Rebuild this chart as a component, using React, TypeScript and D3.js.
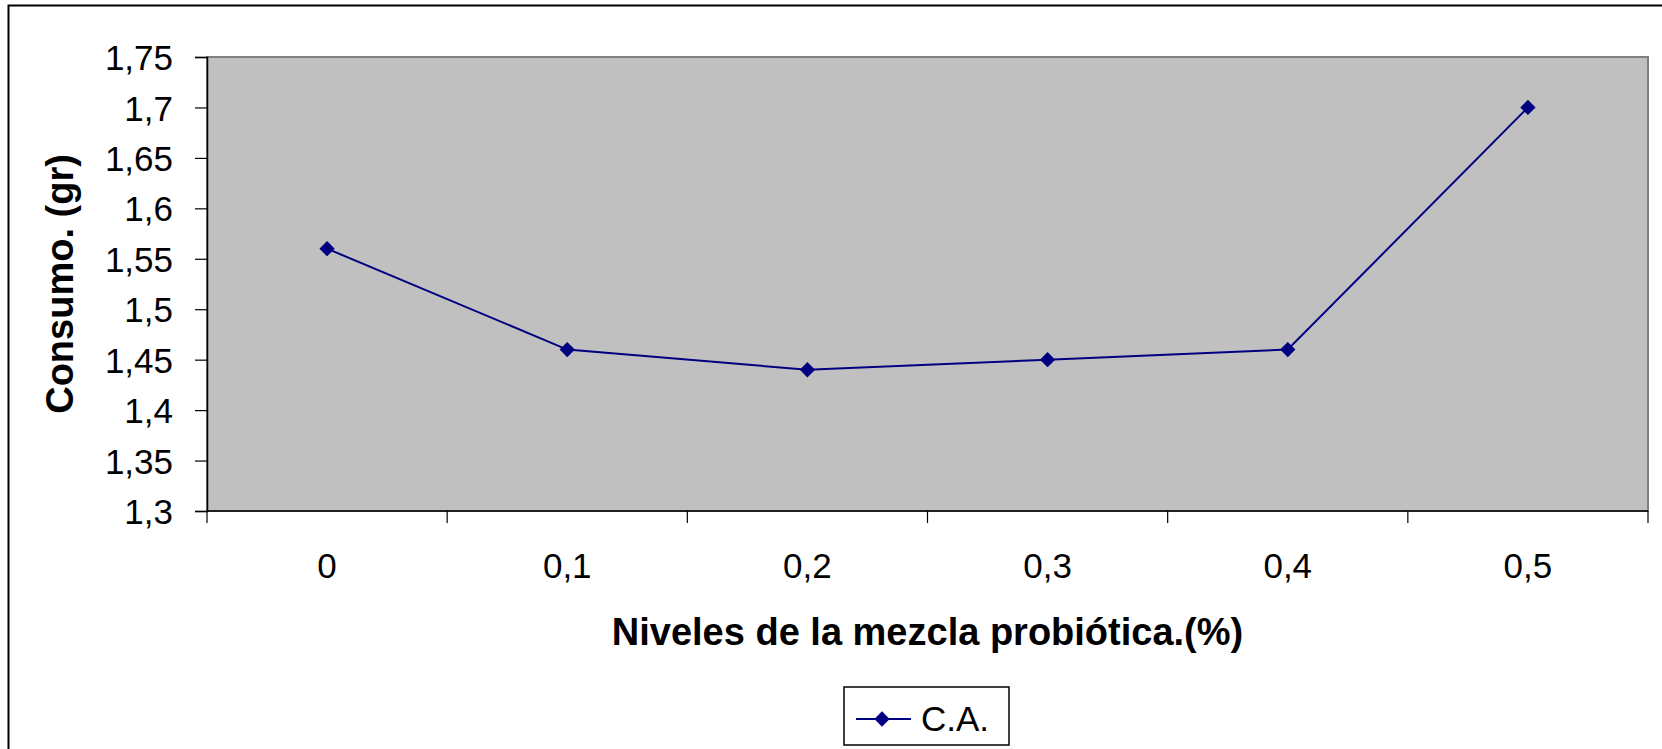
import React, { useEffect, useRef } from 'react';
import * as d3 from 'd3';

const categories = ['0', '0,1', '0,2', '0,3', '0,4', '0,5'];
const consumo = [1.56, 1.46, 1.44, 1.45, 1.46, 1.7];
const yTicks = [1.3, 1.35, 1.4, 1.45, 1.5, 1.55, 1.6, 1.65, 1.7, 1.75];
const seriesName = 'C.A.';

const ConsumoChart: React.FC = () => {
  const chartRef = useRef<SVGSVGElement | null>(null);

  useEffect(() => {
    if (!chartRef.current) return;
    const svg = d3.select(chartRef.current);
    svg.selectAll('*').remove();

    const width = 1662;
    const height = 749;
    const plot = { left: 207, top: 57, right: 1648, bottom: 511 };
    const font = 'Arial, "Liberation Sans", sans-serif';

    svg.append('rect')
      .attr('width', width)
      .attr('height', height)
      .attr('fill', '#fff');

    // outer chart border (runs off the page to the right and bottom)
    svg.append('rect')
      .attr('x', 8.5)
      .attr('y', 5.5)
      .attr('width', width + 20)
      .attr('height', height + 20)
      .attr('fill', 'none')
      .attr('stroke', '#000')
      .attr('stroke-width', 2);

    const x = d3.scaleBand()
      .domain(categories)
      .range([plot.left, plot.right]);

    const y = d3.scaleLinear()
      .domain([1.3, 1.75])
      .range([plot.bottom, plot.top]);

    svg.append('rect')
      .attr('x', plot.left)
      .attr('y', plot.top)
      .attr('width', plot.right - plot.left)
      .attr('height', plot.bottom - plot.top)
      .attr('fill', '#c0c0c0')
      .attr('stroke', '#808080')
      .attr('stroke-width', 2);

    // y axis
    const yAxis = svg.append('g')
      .attr('transform', `translate(${plot.left},0)`)
      .call(d3.axisLeft(y)
        .tickValues(yTicks)
        .tickSize(12)
        .tickPadding(22)
        .tickFormat(d => String(d).replace('.', ',')));
    yAxis.select('.domain').attr('stroke', '#000').attr('stroke-width', 1.5);
    yAxis.selectAll('.tick line').attr('stroke', '#000').attr('stroke-width', 1.2);
    yAxis.selectAll('.tick text')
      .attr('fill', '#000')
      .attr('dy', '0.36em')
      .style('font-family', font)
      .style('font-size', '35px');

    // x axis: ticks on category boundaries
    const xAxis = svg.append('g')
      .attr('transform', `translate(0,${plot.bottom})`);
    xAxis.append('line')
      .attr('x1', plot.left)
      .attr('x2', plot.right)
      .attr('stroke', '#000')
      .attr('stroke-width', 1.5);
    const bounds = categories.map(c => x(c)!).concat([plot.right]);
    xAxis.selectAll('line.tk')
      .data(bounds)
      .enter().append('line')
      .attr('class', 'tk')
      .attr('x1', d => d)
      .attr('x2', d => d)
      .attr('y1', 0)
      .attr('y2', 12)
      .attr('stroke', '#000')
      .attr('stroke-width', 1.2);
    xAxis.selectAll('text')
      .data(categories)
      .enter().append('text')
      .attr('x', d => x(d)! + x.bandwidth() / 2)
      .attr('y', 67)
      .attr('text-anchor', 'middle')
      .style('font-family', font)
      .style('font-size', '35px')
      .text(d => d);

    // line + markers
    const pts = categories.map((c, i) => ({ c, v: consumo[i] }));
    const line = d3.line<{ c: string; v: number }>()
      .x(d => x(d.c)! + x.bandwidth() / 2)
      .y(d => y(d.v));
    svg.append('path')
      .datum(pts)
      .attr('d', line)
      .attr('fill', 'none')
      .attr('stroke', '#000080')
      .attr('stroke-width', 2);

    const diamond = d3.symbol().type(d3.symbolDiamond2).size(150);
    svg.selectAll('path.pt')
      .data(pts)
      .enter().append('path')
      .attr('class', 'pt')
      .attr('d', diamond)
      .attr('transform', d => `translate(${x(d.c)! + x.bandwidth() / 2},${y(d.v)})`)
      .attr('fill', '#000080');

    // axis titles
    svg.append('text')
      .attr('transform', `translate(73,${(plot.top + plot.bottom) / 2}) rotate(-90)`)
      .attr('text-anchor', 'middle')
      .style('font-family', font)
      .style('font-size', '38px')
      .style('font-weight', 'bold')
      .text('Consumo. (gr)');

    svg.append('text')
      .attr('x', (plot.left + plot.right) / 2)
      .attr('y', 645)
      .attr('text-anchor', 'middle')
      .style('font-family', font)
      .style('font-size', '38px')
      .style('font-weight', 'bold')
      .text('Niveles de la mezcla probiótica.(%)');

    // legend
    const lg = svg.append('g').attr('transform', 'translate(844,687)');
    lg.append('rect')
      .attr('width', 165)
      .attr('height', 58)
      .attr('fill', '#fff')
      .attr('stroke', '#000')
      .attr('stroke-width', 1.5);
    lg.append('line')
      .attr('x1', 12)
      .attr('x2', 67)
      .attr('y1', 32)
      .attr('y2', 32)
      .attr('stroke', '#000080')
      .attr('stroke-width', 2);
    lg.append('path')
      .attr('d', diamond)
      .attr('transform', 'translate(38,32)')
      .attr('fill', '#000080');
    lg.append('text')
      .attr('x', 77)
      .attr('y', 44)
      .style('font-family', font)
      .style('font-size', '35px')
      .text(seriesName);
  }, []);

  return (
    <svg ref={chartRef} width="1662" height="749" style={{ display: 'block' }}></svg>
  );
};

export default function App() {
  return (
    <div style={{ position: 'absolute', left: 0, top: 0 }}>
      <ConsumoChart />
    </div>
  );
}
